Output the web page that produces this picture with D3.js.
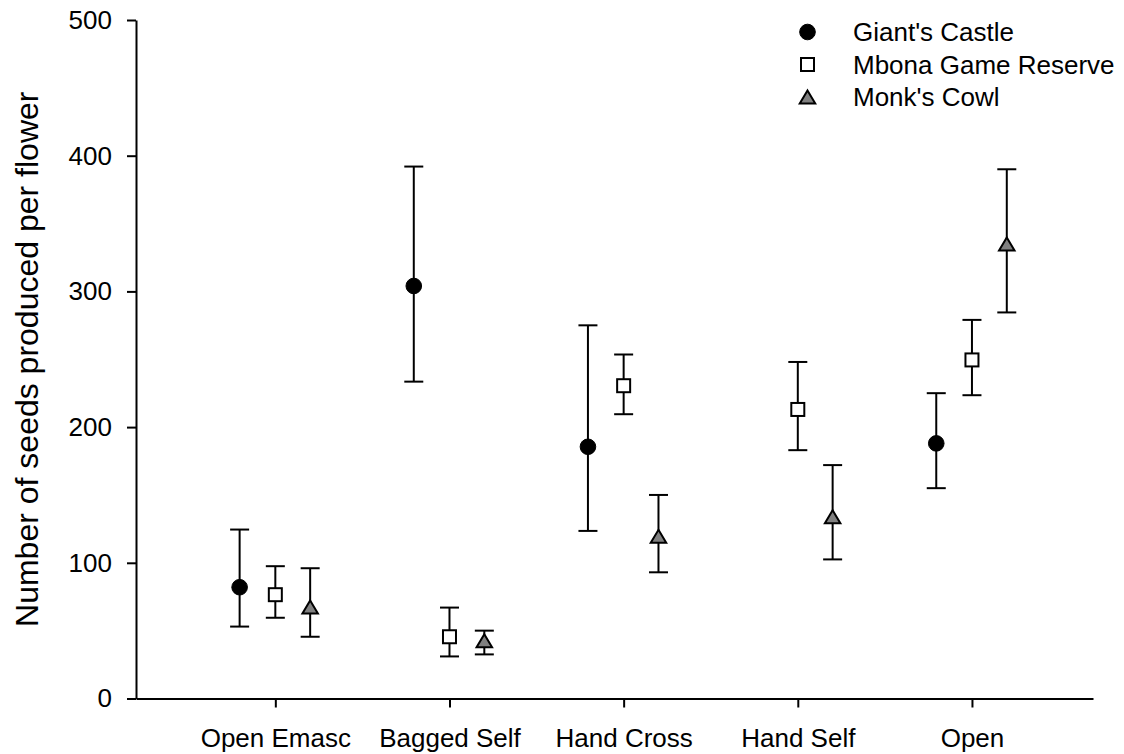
<!DOCTYPE html>
<html>
<head>
<meta charset="utf-8">
<script src="https://cdn.jsdelivr.net/npm/d3@7"></script>
<style>
  html, body { margin: 0; padding: 0; background: #fff; }
  svg { display: block; }
  text { font-family: "Liberation Sans", Arial, sans-serif; fill: #000; }
</style>
</head>
<body>
<svg id="chart" width="1124" height="754"></svg>
<script>
// ---- data ----
const categories = ["Open Emasc", "Bagged Self", "Hand Cross", "Hand Self", "Open"];
const seriesNames = ["Giant's Castle", "Mbona Game Reserve", "Monk's Cowl"];

const giantMean  = [82, 304, 185.5, null, 188];
const giantUpper = [124.5, 392, 275, null, 225];
const giantLower = [53, 233.5, 123.5, null, 155];

const mbonaMean  = [76.5, 45.5, 230.5, 213, 249.5];
const mbonaUpper = [97.5, 67, 253.5, 248, 279];
const mbonaLower = [59.5, 31, 209.5, 183, 223.5];

const monkMean  = [67.5, 42.5, 119.5, 134, 335];
const monkUpper = [96, 50, 150, 172, 390];
const monkLower = [45.5, 32.5, 93, 102.5, 284.5];

const yTicks = [0, 100, 200, 300, 400, 500];

// ---- layout ----
const svg = d3.select("#chart");
const mLeft = 136, mRight = 1093, mTop = 20, mBottom = 698.5;

const x = d3.scaleLinear().domain([-0.8, 4.695]).range([mLeft, mRight]);
const y = d3.scaleLinear().domain([0, 500]).range([mBottom, mTop]);

const series = [
  { name: seriesNames[0], mean: giantMean, upper: giantUpper, lower: giantLower, shape: "circle", offset: -0.205 },
  { name: seriesNames[1], mean: mbonaMean, upper: mbonaUpper, lower: mbonaLower, shape: "square", offset: 0 },
  { name: seriesNames[2], mean: monkMean,  upper: monkUpper,  lower: monkLower,  shape: "triangle", offset: 0.2 }
];

// axes
const yAxis = d3.axisLeft(y).tickValues(yTicks).tickSize(9).tickSizeOuter(0).tickPadding(15);
const gy = svg.append("g").attr("transform", `translate(${mLeft},0)`).call(yAxis);
gy.selectAll("text").style("font-size", "26px");
gy.select(".domain").attr("stroke-width", 2);
gy.selectAll(".tick line").attr("stroke-width", 2);

const xAxis = d3.axisBottom(x).tickValues(d3.range(categories.length))
  .tickFormat(i => categories[i]).tickSize(9).tickSizeOuter(0).tickPadding(21);
const gx = svg.append("g").attr("transform", `translate(0,${mBottom})`).call(xAxis);
gx.selectAll("text").style("font-size", "26px");
gx.select(".domain").attr("stroke-width", 2);
gx.selectAll(".tick line").attr("stroke-width", 2);

// y axis title
svg.append("text")
  .attr("transform", `translate(38,${(mTop + mBottom) / 2}) rotate(-90)`)
  .attr("text-anchor", "middle")
  .style("font-size", "32px")
  .text("Number of seeds produced per flower");

// marker drawing
function drawMarker(g, shape, cx, cy) {
  if (shape === "circle") {
    g.append("circle").attr("cx", cx).attr("cy", cy).attr("r", 7.8)
      .attr("fill", "#000").attr("stroke", "#000").attr("stroke-width", 1);
  } else if (shape === "square") {
    const s = 13;
    g.append("rect").attr("x", cx - s / 2).attr("y", cy - s / 2).attr("width", s).attr("height", s)
      .attr("fill", "#fff").attr("stroke", "#000").attr("stroke-width", 2);
  } else {
    const w = 15.5, h = 13;
    g.append("path")
      .attr("d", `M${cx},${cy - h / 2}L${cx + w / 2},${cy + h / 2}L${cx - w / 2},${cy + h / 2}Z`)
      .attr("fill", "#808080").attr("stroke", "#000").attr("stroke-width", 2)
      .attr("stroke-linejoin", "miter");
  }
}

const capW = 19;
const plot = svg.append("g");
series.forEach(s => {
  categories.forEach((c, i) => {
    if (s.mean[i] == null) return;
    const cx = x(i + s.offset);
    const g = plot.append("g");
    g.append("line").attr("x1", cx).attr("x2", cx)
      .attr("y1", y(s.upper[i])).attr("y2", y(s.lower[i]))
      .attr("stroke", "#000").attr("stroke-width", 2);
    [s.upper[i], s.lower[i]].forEach(v => {
      g.append("line").attr("x1", cx - capW / 2).attr("x2", cx + capW / 2)
        .attr("y1", y(v)).attr("y2", y(v))
        .attr("stroke", "#000").attr("stroke-width", 2);
    });
  });
});
series.forEach(s => {
  categories.forEach((c, i) => {
    if (s.mean[i] == null) return;
    drawMarker(plot, s.shape, x(i + s.offset), y(s.mean[i]));
  });
});

// legend
const legend = svg.append("g");
series.forEach((s, k) => {
  const cy = 32 + k * 32.5;
  drawMarker(legend, s.shape, 807.5, cy);
  legend.append("text").attr("x", 853).attr("y", cy + 9)
    .style("font-size", "26px").text(s.name);
});
</script>
</body>
</html>
